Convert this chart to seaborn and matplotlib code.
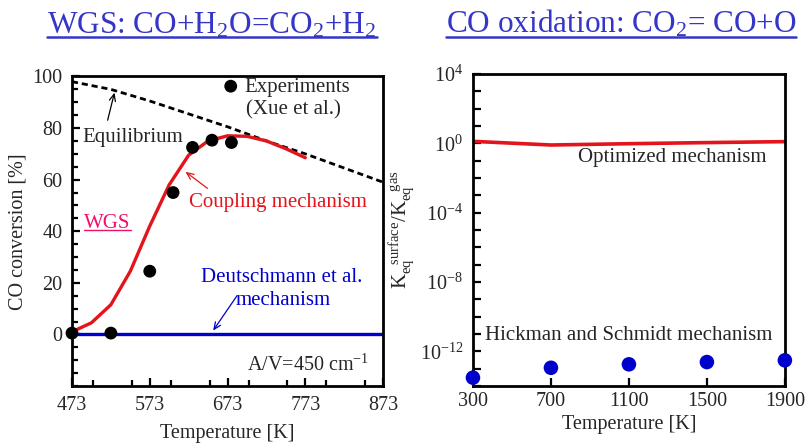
import numpy as np
import pandas as pd
import matplotlib
matplotlib.use("Agg")
import matplotlib.pyplot as plt
import matplotlib.ticker as mticker
from matplotlib.lines import Line2D
import seaborn as sns

# ---- WGS panel data ----
eq_T = [473, 523, 573, 623, 673, 723, 773, 823, 873]
eq_conv = [98, 95, 90.5, 85.5, 80.5, 75, 70, 64.5, 59]

coup_T = [473, 498, 523, 548, 573, 598, 623, 648, 673, 698, 723, 748, 773]
coup_conv = [1, 4.5, 11.5, 24.5, 42, 58, 69.5, 75, 77, 76.8, 75, 72, 68.5]

exp_T = [473, 523, 573, 603, 628, 653, 678]
exp_conv = [0.5, 0.5, 24.5, 55, 72.5, 75.3, 74.4]

deut_T = [473, 873]
deut_conv = [0, 0]

# ---- CO oxidation panel data ----
ox_T = [300, 700, 1100, 1500, 1900]
ox_opt = [1.3, 0.8, 0.95, 1.1, 1.25]
ox_hick = [10**-13.52, 10**-12.95, 10**-12.75, 10**-12.62, 10**-12.52]

wgs_xticks = [473, 573, 673, 773, 873]
wgs_yticks = [0, 20, 40, 60, 80, 100]
ox_xticks = [300, 700, 1100, 1500, 1900]
ox_yticks = [1e-12, 1e-8, 1e-4, 1e0, 1e4]

sns.set_style("ticks")
plt.rcParams["font.family"] = ["Liberation Serif", "DejaVu Serif"]
plt.rcParams["mathtext.default"] = "regular"

RED = "#e3141b"
BLUE = "#0000cc"
TITLE = "#3535c8"
PINK = "#f0106a"

fig = plt.figure(figsize=(8.06, 4.47), dpi=100)
axL = fig.add_axes([0.0893, 0.1365, 0.386, 0.6924])
axR = fig.add_axes([0.5868, 0.1365, 0.387, 0.698])

df_eq = pd.DataFrame({"T": eq_T, "X": eq_conv})
df_cp = pd.DataFrame({"T": coup_T, "X": coup_conv})
df_ex = pd.DataFrame({"T": exp_T, "X": exp_conv})
df_dt = pd.DataFrame({"T": deut_T, "X": deut_conv})

sns.lineplot(data=df_dt, x="T", y="X", ax=axL, color=BLUE, lw=2.4, zorder=2)
sns.lineplot(data=df_eq, x="T", y="X", ax=axL, color="black", lw=2.0,
             linestyle=(0, (2.2, 1.4)), zorder=3)
sns.lineplot(data=df_cp, x="T", y="X", ax=axL, color=RED, lw=2.4, zorder=4)
sns.scatterplot(data=df_ex, x="T", y="X", ax=axL, color="black", s=85,
                edgecolor="none", zorder=5, clip_on=False, label="Experiments")

axL.set_xlim(473, 873)
axL.set_ylim(-20, 100)
axL.set_xticks(wgs_xticks)
axL.set_yticks(wgs_yticks)
axL.xaxis.set_minor_locator(mticker.MultipleLocator(50))
axL.yaxis.set_minor_locator(mticker.MultipleLocator(5))
axL.set_xlabel("Temperature [K]", fontsize=14.5, labelpad=7)
axL.set_ylabel("CO conversion [%]", fontsize=14.5, labelpad=3)

FS = 15
leg = axL.legend(loc="upper left", bbox_to_anchor=(0.45, 1.025), frameon=False,
                 fontsize=FS, handletextpad=0.15, borderaxespad=0,
                 handlelength=1.0, markerscale=1.0)

txt = dict(fontsize=FS)
axL.text(697, 87, "(Xue et al.)", va="center", ha="left", **txt)
axL.text(486, 76.5, "Equilibrium", va="center", ha="left", **txt)
axL.text(623, 51, "Coupling mechanism", va="center", ha="left", color=RED, **txt)
wgs_lbl = axL.text(489, 43, "WGS", va="center", ha="left", color=PINK, **txt)
axL.text(742, 22, "Deutschmann et al.", va="center", ha="center", color=BLUE, **txt)
axL.text(744, 13, "mechanism", va="center", ha="center", color=BLUE, **txt)
axL.text(698, -12, "A/V=450 cm$^{-1}$", va="center", ha="left", fontsize=14.5)

arw = dict(arrowstyle="->,head_length=0.5,head_width=0.22", lw=0.9)
axL.annotate("", xy=(528.5, 94.8), xytext=(518, 82),
             arrowprops=dict(color="black", **arw))
axL.annotate("", xy=(616, 63.7), xytext=(650, 56),
             arrowprops=dict(color=RED, **arw))
axL.annotate("", xy=(652.5, 0.6), xytext=(687, 15.8),
             arrowprops=dict(color=BLUE, **arw))

# ---- right panel ----
df_opt = pd.DataFrame({"T": ox_T, "K": ox_opt})
df_hk = pd.DataFrame({"T": ox_T, "K": ox_hick})
sns.lineplot(data=df_opt, x="T", y="K", ax=axR, color=RED, lw=2.6)
sns.scatterplot(data=df_hk, x="T", y="K", ax=axR, color=BLUE, s=110,
                edgecolor="none", clip_on=False, zorder=5)
axR.set_yscale("log")
axR.set_xlim(300, 1900)
axR.set_ylim(1e-14, 1e4)
axR.set_xticks(ox_xticks)
axR.yaxis.set_major_locator(mticker.FixedLocator(ox_yticks))
axR.yaxis.set_major_formatter(mticker.LogFormatterSciNotation())
axR.yaxis.set_minor_locator(mticker.FixedLocator([10.0**k for k in range(-14, 5)]))
axR.yaxis.set_minor_formatter(mticker.NullFormatter())
axR.set_xlabel("Temperature [K]", fontsize=14.5, labelpad=3)
axR.set_ylabel(r"$K_{eq}^{\ \ surface}/K_{eq}^{\ \ gas}$", fontsize=15, labelpad=2)
axR.text(1323, 10**-0.8, "Optimized mechanism", ha="center", va="center", **txt)
axR.text(1100, 10**-11.06, "Hickman and Schmidt mechanism", ha="center", va="center", **txt)

for ax in (axL, axR):
    for s in ax.spines.values():
        s.set_linewidth(2.0)
        s.set_color("black")
    ax.tick_params(which="both", direction="in", top=False, right=False,
                   labelsize=14.5, width=1.6, color="black")
    ax.tick_params(which="major", length=6, pad=7)
    ax.tick_params(which="minor", length=4)
axR.tick_params(axis="y", which="minor", length=6)
axR.tick_params(axis="x", pad=4)

# titles with underlines
t1 = fig.text(212 / 806, 1 - 33 / 447, "WGS: CO+H$_2$O=CO$_2$+H$_2$", ha="center",
              va="baseline", fontsize=22.5, color=TITLE)
t2 = fig.text(621 / 806, 1 - 32.5 / 447, "CO oxidation: CO$_2$= CO+O", ha="center",
              va="baseline", fontsize=22.5, color=TITLE)

fig.canvas.draw()
r = fig.canvas.get_renderer()
H = fig.bbox.height
W = fig.bbox.width


def underline(text_artist, base_px, color, lw, offset):
    bb = text_artist.get_window_extent(r)
    y = base_px - offset
    fig.add_artist(Line2D([bb.x0 / W, bb.x1 / W], [y / H, y / H],
                          color=color, lw=lw, transform=fig.transFigure))


underline(t1, (1 - 33 / 447) * H, TITLE, 1.8, 4)
underline(t2, (1 - 32.5 / 447) * H, TITLE, 1.8, 4)
bbw = wgs_lbl.get_window_extent(r)
fig.add_artist(Line2D([bbw.x0 / W, bbw.x1 / W], [(bbw.y0 + 3) / H] * 2,
                      color=PINK, lw=1.0, transform=fig.transFigure))

fig.savefig("out.png", dpi=100)
